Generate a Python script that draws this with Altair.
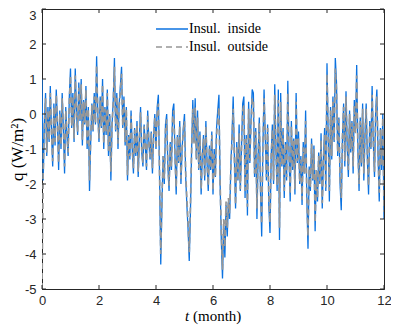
import altair as alt
import pandas as pd

# ---------------- data ----------------
names = ["Insul.\u00a0 inside", "Insul.\u00a0 outside"]
x_ticks = [0, 2, 4, 6, 8, 10, 12]
y_ticks = [-5, -4, -3, -2, -1, 0, 1, 2, 3]
steps_per_month = 24

# heat flux, insulation inside (blue), one list per month
in_m0 = [1.0, -1.9, -0.3, 0.6, -1.2, 0.2, -0.8, 0.8, -0.5, -1.5, 0.3, -0.9, 0.7, -0.2, -1.6, 0.1, -1.0, 0.6, -0.4, -1.7, 0.2, -0.6, -1.2, 0.5]
in_m1 = [1.3, -0.4, 0.6, -0.8, 1.3, 0.1, -0.6, 0.9, -0.2, 1.0, -0.9, 0.4, -0.3, 0.8, -1.0, 0.2, -2.2, -0.8, 0.3, -0.5, 0.6, -0.3, 1.65, 0.0]
in_m2 = [-0.8, 0.5, -0.4, 1.0, -1.0, 0.2, -0.6, 0.7, -1.2, 0.0, -1.9, -0.3, 0.4, 1.6, -0.5, 0.6, -1.0, 0.3, 0.8, 1.35, -0.4, 0.5, -0.9, 0.2]
in_m3 = [-1.9, -0.6, -1.3, 0.1, -1.0, -1.7, -0.4, -1.2, -0.2, -1.8, -0.7, 0.2, -1.1, -1.5, -0.3, -0.9, -1.6, 0.1, -0.8, -1.3, -0.5, -1.7, -0.6, 0.0]
in_m4 = [-1.0, 0.2, 0.55, -1.8, -4.3, -2.6, -1.2, -2.0, -0.3, 0.0, -1.5, -2.2, -0.8, -1.6, 0.1, 0.3, -1.2, -2.3, -0.6, -1.4, -0.2, -2.0, -1.0, -0.4]
in_m5 = [0.0, -1.8, -2.6, -3.3, -4.2, -2.8, -1.0, 0.4, -0.8, 0.45, -1.3, 0.1, -1.6, -0.5, -2.3, -1.2, -0.6, -1.9, -0.2, -1.4, -2.2, -0.9, -1.6, -0.5]
in_m6 = [-2.3, -1.0, -1.8, -0.4, 0.1, 0.55, -2.0, -3.6, -4.7, -3.2, -4.1, -2.6, -3.5, -2.5, -3.0, -1.5, -0.6, 0.5, -1.2, -2.7, -0.8, -1.9, -0.3, -2.2]
in_m7 = [-1.0, 0.3, 0.5, -2.4, -0.6, -2.9, 0.35, -1.4, -0.2, 0.7, 0.6, -1.8, -0.4, -3.0, -1.2, -0.1, -2.2, -3.5, -1.0, 0.7, -0.6, -1.9, -0.3, -2.6]
in_m8 = [-3.4, -1.2, -0.3, -2.0, 0.85, -1.0, -2.2, 0.7, -3.6, 0.6, -1.5, -0.4, -2.4, -0.8, -1.9, 0.95, -1.1, -2.5, -0.2, -1.6, -0.7, -2.3, 0.6, -1.4]
in_m9 = [-0.5, -2.0, -1.2, -2.6, -0.8, -1.7, 0.1, -2.4, -3.85, -1.5, -2.2, -0.7, -1.9, -0.9, -3.35, -1.6, -2.5, -1.1, -2.0, -0.55, -2.7, -1.3, -0.4, -2.2]
in_m10 = [1.45, -0.6, -2.5, 0.2, -1.3, 0.5, -0.8, 1.6, 0.9, -1.2, -0.1, -2.0, -2.75, -0.7, 0.3, -1.5, 0.65, -0.9, -1.8, 0.1, -1.1, -0.2, -1.7, 0.4]
in_m11 = [-0.5, 1.4, -1.0, -2.2, -0.1, -1.5, 0.3, -1.9, -0.6, 0.3, -1.3, -2.3, -0.2, -1.0, 0.8, -0.8, -1.8, 0.1, 0.7, -1.2, -2.5, -0.4, -1.6, 0.0]
in_end = [-3.0]

# heat flux, insulation outside (grey dashed)
out_m0 = [-5.0, -1.7, -0.3, 0.45, -1.1, 0.1, -0.75, 0.6, -0.5, -1.35, 0.2, -0.8, 0.55, -0.25, -1.4, 0.0, -0.9, 0.45, -0.4, -1.5, 0.1, -0.55, -1.1, 0.35]
out_m1 = [1.1, -0.35, 0.5, -0.7, 1.1, 0.1, -0.5, 0.75, -0.15, 0.85, -0.75, 0.35, -0.25, 0.7, -0.85, 0.15, -1.9, -0.7, 0.25, -0.45, 0.5, -0.25, 1.4, 0.0]
out_m2 = [-0.7, 0.4, -0.35, 0.85, -0.85, 0.15, -0.5, 0.6, -1.05, 0.0, -1.65, -0.25, 0.3, 1.35, -0.45, 0.5, -0.85, 0.25, 0.65, 1.15, -0.35, 0.4, -0.8, 0.15]
out_m3 = [-1.75, -0.65, -1.2, -0.05, -1.0, -1.55, -0.45, -1.15, -0.3, -1.65, -0.7, 0.05, -1.05, -1.4, -0.35, -0.9, -1.5, -0.05, -0.8, -1.25, -0.55, -1.55, -0.65, -0.1]
out_m4 = [-1.0, 0.0, 0.3, -1.7, -4.0, -2.4, -1.2, -1.85, -0.45, -0.15, -1.45, -2.05, -0.85, -1.5, -0.1, 0.1, -1.2, -2.1, -0.65, -1.35, -0.35, -1.85, -1.0, -0.5]
out_m5 = [-0.2, -1.7, -2.4, -3.1, -3.95, -2.6, -1.05, 0.15, -0.85, 0.2, -1.3, -0.1, -1.55, -0.6, -2.15, -1.2, -0.7, -1.8, -0.35, -1.4, -2.05, -0.95, -1.55, -0.6]
out_m6 = [-2.2, -1.15, -1.8, -0.6, -0.2, 0.2, -2.0, -3.35, -4.45, -3.0, -3.8, -2.5, -3.25, -2.4, -2.85, -1.55, -0.8, 0.15, -1.3, -2.6, -0.95, -1.9, -0.55, -2.15]
out_m7 = [-1.0, 0.1, 0.25, -2.2, -0.7, -2.65, 0.15, -1.35, -0.35, 0.45, 0.35, -1.7, -0.5, -2.7, -1.2, -0.25, -2.05, -3.15, -1.0, 0.45, -0.65, -1.8, -0.4, -2.4]
out_m8 = [-3.1, -1.2, -0.45, -1.9, 0.55, -1.05, -2.05, 0.4, -3.25, 0.35, -1.45, -0.5, -2.2, -0.85, -1.8, 0.6, -1.1, -2.3, -0.35, -1.55, -0.75, -2.15, 0.35, -1.35]
out_m9 = [-0.7, -1.95, -1.3, -2.45, -0.95, -1.7, -0.2, -2.3, -3.5, -1.55, -2.1, -0.85, -1.85, -1.0, -3.1, -1.6, -2.4, -1.2, -1.95, -0.75, -2.55, -1.35, -0.6, -2.1]
out_m10 = [1.15, -0.6, -2.2, 0.1, -1.2, 0.35, -0.75, 1.3, 0.7, -1.1, -0.15, -1.8, -2.4, -0.65, 0.2, -1.35, 0.5, -0.85, -1.6, 0.0, -1.0, -0.25, -1.5, 0.25]
out_m11 = [-0.55, 1.1, -0.95, -2.0, -0.2, -1.4, 0.15, -1.7, -0.6, 0.15, -1.2, -2.05, -0.3, -0.95, 0.55, -0.8, -1.65, 0.0, 0.5, -1.15, -2.25, -0.45, -1.45, -0.1]
out_end = [-2.8]

q_inside = (in_m0 + in_m1 + in_m2 + in_m3 + in_m4 + in_m5 + in_m6 + in_m7
            + in_m8 + in_m9 + in_m10 + in_m11 + in_end)
q_outside = (out_m0 + out_m1 + out_m2 + out_m3 + out_m4 + out_m5 + out_m6 + out_m7
             + out_m8 + out_m9 + out_m10 + out_m11 + out_end)
t_grid = [i / steps_per_month for i in range(len(q_inside))]

df = pd.DataFrame({
    "t": t_grid + t_grid,
    "q": q_inside + q_outside,
    "series": [names[0]] * len(q_inside) + [names[1]] * len(q_outside),
})

# ---------------- style ----------------
W, H = 342, 280
AX = "#262626"
BLUE = "#0b72e0"
GREY = "#979797"
TICK = 4
DASH = [6, 4]

xs = alt.Scale(domain=[0, 12], nice=False, zero=False)
ys = alt.Scale(domain=[-5, 3], nice=False, zero=False)

x_axis = alt.Axis(values=x_ticks, title=None, tickSize=0, labelPadding=5,
                  labelFont="Liberation Sans", labelFontSize=13, labelColor=AX,
                  domainColor=AX, domainWidth=1, grid=False, labelFlush=False,
                  labelExpr="datum.value + ''")
y_axis = alt.Axis(values=y_ticks, title="q (W/m²)", tickSize=0, labelPadding=6,
                  labelFont="Liberation Sans", labelFontSize=13, labelColor=AX,
                  domainColor=AX, domainWidth=1, grid=False, labelFlush=False,
                  labelExpr="datum.value + ''",
                  labelOffset={"condition": {"test": "datum.value == 3", "value": 6},
                               "value": 0},
                  titleFont="Liberation Serif", titleFontSize=17,
                  titleFontWeight="normal", titleColor="black",
                  titleX=-25, titleBaseline="middle")

lines = alt.Chart(df).mark_line(clip=True).encode(
    x=alt.X("t:Q", scale=xs, axis=x_axis),
    y=alt.Y("q:Q", scale=ys, axis=y_axis),
    color=alt.Color("series:N", scale=alt.Scale(domain=names, range=[BLUE, GREY]),
                    legend=None),
    strokeDash=alt.StrokeDash("series:N",
                              scale=alt.Scale(domain=names, range=[[1, 0], DASH]),
                              legend=None),
    strokeWidth=alt.StrokeWidth("series:N",
                                scale=alt.Scale(domain=names, range=[1.3, 1.7]),
                                legend=None),
)

xt = pd.DataFrame({"v": x_ticks})
yt = pd.DataFrame({"v": y_ticks})
bottom_ticks = alt.Chart(xt).mark_rule(color=AX, strokeWidth=1).encode(
    x=alt.X("v:Q", scale=xs, axis=x_axis), y=alt.value(H), y2=alt.value(H - TICK))
top_ticks = alt.Chart(xt).mark_rule(color=AX, strokeWidth=1).encode(
    x=alt.X("v:Q", scale=xs, axis=x_axis), y=alt.value(0), y2=alt.value(TICK))
left_ticks = alt.Chart(yt).mark_rule(color=AX, strokeWidth=1).encode(
    y=alt.Y("v:Q", scale=ys, axis=y_axis), x=alt.value(0), x2=alt.value(TICK))
right_ticks = alt.Chart(yt).mark_rule(color=AX, strokeWidth=1).encode(
    y=alt.Y("v:Q", scale=ys, axis=y_axis), x=alt.value(W), x2=alt.value(W - TICK))

# x-axis title with italic "t"
title_t = alt.Chart(pd.DataFrame({"s": ["t"]})).mark_text(
    font="Liberation Serif", fontStyle="italic", fontSize=15, align="left",
    baseline="alphabetic", color="black").encode(
    text="s:N", x=alt.value(143), y=alt.value(312))
title_rest = alt.Chart(pd.DataFrame({"s": ["(month)"]})).mark_text(
    font="Liberation Serif", fontSize=15, align="left",
    baseline="alphabetic", color="black").encode(
    text="s:N", x=alt.value(151), y=alt.value(312))

# legend (no box, as in the reference)
LX0, LX1, LY0, LY1 = 114, 146, 20, 38
leg_line_in = alt.Chart(pd.DataFrame({"s": [names[0]]})).mark_rule(
    color=BLUE, strokeWidth=1.5).encode(
    x=alt.value(LX0), x2=alt.value(LX1), y=alt.value(LY0))
leg_line_out = alt.Chart(pd.DataFrame({"s": [names[1]]})).mark_rule(
    color=GREY, strokeWidth=1.5, strokeDash=DASH).encode(
    x=alt.value(LX0), x2=alt.value(LX1), y=alt.value(LY1))
leg_txt_in = alt.Chart(pd.DataFrame({"s": [names[0]]})).mark_text(
    font="Liberation Serif", fontSize=14, align="left", baseline="middle",
    color="black").encode(text="s:N", x=alt.value(LX1 + 1), y=alt.value(LY0))
leg_txt_out = alt.Chart(pd.DataFrame({"s": [names[1]]})).mark_text(
    font="Liberation Serif", fontSize=14, align="left", baseline="middle",
    color="black").encode(text="s:N", x=alt.value(LX1 + 1), y=alt.value(LY1))

chart = alt.layer(lines, bottom_ticks, top_ticks, left_ticks, right_ticks,
                  title_t, title_rest,
                  leg_line_in, leg_line_out, leg_txt_in, leg_txt_out).properties(
    width=W, height=H,
    autosize=alt.AutoSizeParams(type="none"),
    padding={"left": 34, "top": 1, "right": 7, "bottom": 36},
    background="white",
).configure_view(stroke=AX, strokeWidth=1)

chart.save("out.html", embed_options={"renderer": "svg", "actions": False})
